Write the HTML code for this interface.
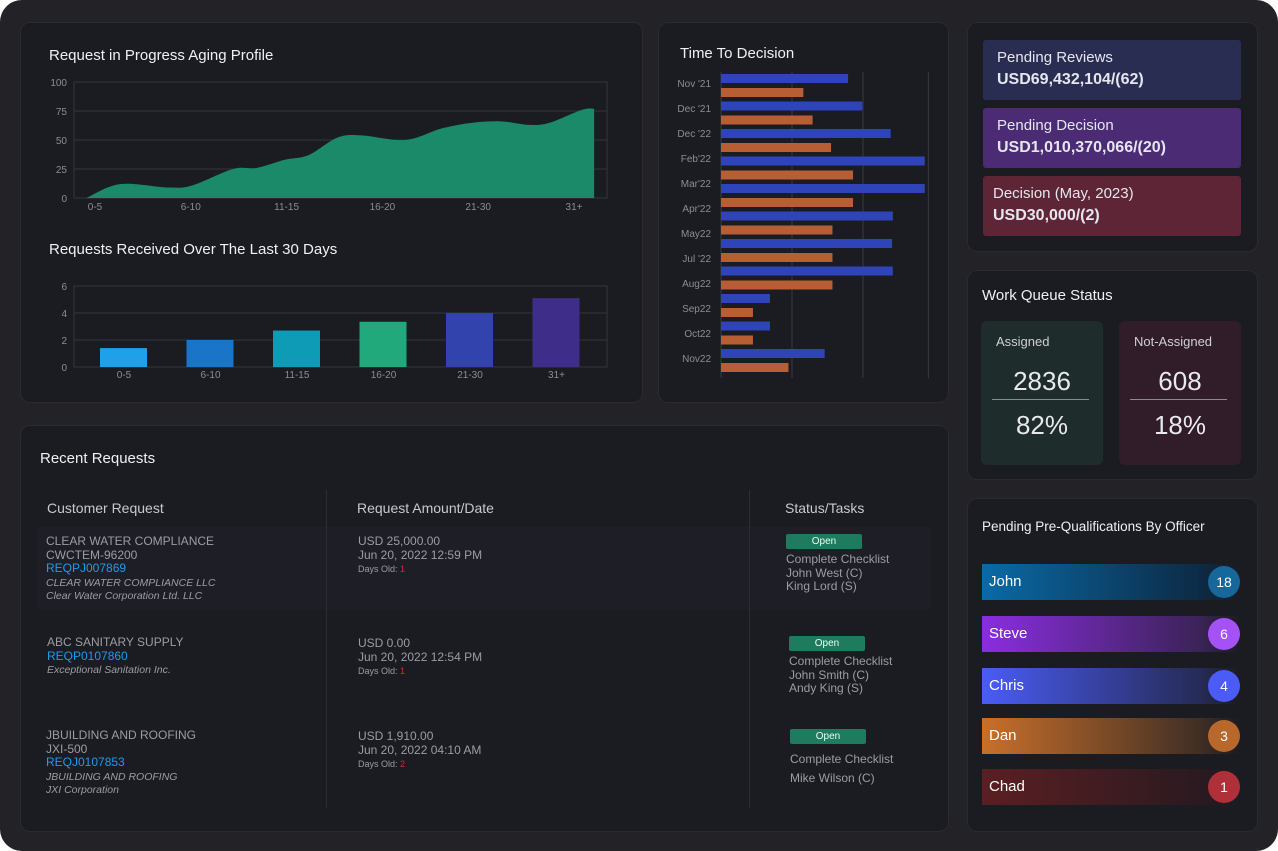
<!DOCTYPE html>
<html><head><meta charset="utf-8">
<style>
*{box-sizing:border-box;margin:0;padding:0}
body{width:1278px;height:851px;background:#fff;font-family:"Liberation Sans","DejaVu Sans",sans-serif;overflow:hidden}
#frame{position:absolute;left:0;top:0;width:1278px;height:851px;background:#222227;border-radius:22px}
.panel{position:absolute;background:#1b1b22;border:1px solid #2a2a31;border-radius:10px}
.t{position:absolute;white-space:nowrap}
.title{color:#f0f0f2;font-size:15px}
.card{position:absolute;left:983px;width:258px;height:60px;border-radius:3px;color:#e6e6ee}
.card .l{position:absolute;left:14px;top:9px;font-size:15px}
.card .v{position:absolute;left:14px;top:31px;font-size:16px;font-weight:bold}
.qbox{position:absolute;top:321px;width:122px;height:144px;border-radius:6px;color:#e8e8ee;text-align:center}
.qbox .h{position:absolute;left:15px;top:13px;font-size:13px;color:#cfcfd6}
.qbox .n{position:absolute;left:0;width:100%;top:45px;font-size:26px}
.qbox .ln{position:absolute;left:11px;right:14px;top:78px;height:1px;background:#8a8a92}
.qbox .p{position:absolute;left:0;width:100%;top:89px;font-size:26px}
.ofc{position:absolute;left:982px;width:258px;height:36px;color:#fff;font-size:15px}
.ofc span{position:absolute;left:7px;top:9px}
.ofc i{position:absolute;right:0;top:2px;width:32px;height:32px;border-radius:50%;font-style:normal;text-align:center;line-height:32px;font-size:14px}
.tb{color:#9c9ca4;font-size:12px;line-height:13.5px}
.lk{color:#1d9ceb}
.it{font-style:italic;font-size:10.5px;line-height:11px}
.badge{position:absolute;width:76px;height:15px;background:#1e7b5d;color:#e8fff4;font-size:10px;text-align:center;line-height:15px;border-radius:2px}
</style></head><body>
<div id="frame"></div>

<div class="panel" style="left:20px;top:22px;width:623px;height:381px"></div>
<div class="t title" style="left:49px;top:47px">Request in Progress Aging Profile</div>
<div class="t title" style="left:49px;top:241px">Requests Received Over The Last 30 Days</div>

<div class="panel" style="left:658px;top:22px;width:291px;height:381px"></div>
<div class="t title" style="left:680px;top:45px">Time To Decision</div>

<svg id="charts" width="1278" height="851" style="position:absolute;left:0;top:0;z-index:5;pointer-events:none"></svg>

<div class="panel" style="left:20px;top:425px;width:929px;height:407px"></div>
<div class="t title" style="left:40px;top:450px">Recent Requests</div>
<div style="position:absolute;left:38px;top:527px;width:892px;height:83px;background:#1e1e26"></div>
<div style="position:absolute;left:326px;top:490px;width:1px;height:318px;background:#2c2c34"></div>
<div style="position:absolute;left:749px;top:490px;width:1px;height:318px;background:#2c2c34"></div>
<div class="t" style="left:47px;top:500px;color:#c8c8d0;font-size:14px">Customer Request</div>
<div class="t" style="left:357px;top:500px;color:#c8c8d0;font-size:14px">Request Amount/Date</div>
<div class="t" style="left:785px;top:500px;color:#c8c8d0;font-size:14px">Status/Tasks</div>

<div class="t tb" style="left:46px;top:535px">CLEAR WATER COMPLIANCE<br>CWCTEM-96200<br><span class="lk">REQPJ007869</span><br><span class="it">CLEAR WATER COMPLIANCE LLC<br>Clear Water Corporation Ltd. LLC</span></div>
<div class="t tb" style="left:358px;top:535px">USD 25,000.00<br>Jun 20, 2022 12:59 PM<br><span style="font-size:9px">Days Old: <span style="color:#d03030">1</span></span></div>
<div class="badge" style="left:786px;top:534px">Open</div>
<div class="t tb" style="left:786px;top:553px">Complete Checklist<br>John West (C)<br>King Lord (S)</div>

<div class="t tb" style="left:47px;top:636px">ABC SANITARY SUPPLY<br><span class="lk">REQP0107860</span><br><span class="it">Exceptional Sanitation Inc.</span></div>
<div class="t tb" style="left:358px;top:637px">USD 0.00<br>Jun 20, 2022 12:54 PM<br><span style="font-size:9px">Days Old: <span style="color:#d03030">1</span></span></div>
<div class="badge" style="left:789px;top:636px">Open</div>
<div class="t tb" style="left:789px;top:655px">Complete Checklist<br>John Smith (C)<br>Andy King (S)</div>

<div class="t tb" style="left:46px;top:729px">JBUILDING AND ROOFING<br>JXI-500<br><span class="lk">REQJ0107853</span><br><span class="it">JBUILDING AND ROOFING<br>JXI Corporation</span></div>
<div class="t tb" style="left:358px;top:730px">USD 1,910.00<br>Jun 20, 2022 04:10 AM<br><span style="font-size:9px">Days Old: <span style="color:#d03030">2</span></span></div>
<div class="badge" style="left:790px;top:729px">Open</div>
<div class="t tb" style="left:790px;top:750px;line-height:19px">Complete Checklist<br>Mike Wilson (C)</div>

<div class="panel" style="left:967px;top:22px;width:291px;height:230px"></div>
<div class="card" style="top:40px;background:#2a2d52"><div class="l">Pending Reviews</div><div class="v">USD69,432,104/(62)</div></div>
<div class="card" style="top:108px;background:#4a2b74"><div class="l">Pending Decision</div><div class="v">USD1,010,370,066/(20)</div></div>
<div class="card" style="top:176px;background:#5d2536"><div class="l" style="left:10px">Decision (May, 2023)</div><div class="v" style="left:10px">USD30,000/(2)</div></div>

<div class="panel" style="left:967px;top:270px;width:291px;height:210px"></div>
<div class="t title" style="left:982px;top:287px">Work Queue Status</div>
<div class="qbox" style="left:981px;background:#1f2c2c"><div class="h">Assigned</div><div class="n">2836</div><div class="ln"></div><div class="p">82%</div></div>
<div class="qbox" style="left:1119px;background:#311d29"><div class="h">Not-Assigned</div><div class="n">608</div><div class="ln"></div><div class="p">18%</div></div>

<div class="panel" style="left:967px;top:498px;width:291px;height:334px"></div>
<div class="t" style="left:982px;top:519px;color:#f0f0f2;font-size:13.5px">Pending Pre-Qualifications By Officer</div>
<div class="ofc" style="top:564px;background:linear-gradient(90deg,#0a6aa6,#0d2a44 85%,#1b1b22)"><span>John</span><i style="background:#16689a">18</i></div>
<div class="ofc" style="top:616px;background:linear-gradient(90deg,#8a2de0,#3a2356 85%,#1b1b22)"><span>Steve</span><i style="background:#a452f5">6</i></div>
<div class="ofc" style="top:668px;background:linear-gradient(90deg,#4a5cf5,#262a55 85%,#1b1b22)"><span>Chris</span><i style="background:#4a5cf5">4</i></div>
<div class="ofc" style="top:718px;background:linear-gradient(90deg,#c8702a,#3f2e25 85%,#1b1b22)"><span>Dan</span><i style="background:#b8682a">3</i></div>
<div class="ofc" style="top:769px;background:linear-gradient(90deg,#5a1f22,#2a1a20 85%,#1b1b22)"><span>Chad</span><i style="background:#b0303a">1</i></div>

<script>
const NS='http://www.w3.org/2000/svg';
// Area chart data
const ageLabels=['0-5','6-10','11-15','16-20','21-30','31+'];
const ageTicks=[0,25,50,75,100];
const agePos=[-0.09,0.26,0.77,1.02,1.44,1.69,1.98,2.23,2.53,2.78,3.24,3.62,3.95,4.25,4.54,4.75,5.08,5.21];
const ageVals=[0,12,9,11,25,26,33,37,52,54,50,60,65,66,63,65,76,77];
// Bar chart data
const recLabels=['0-5','6-10','11-15','16-20','21-30','31+'];
const recVals=[1.4,2.0,2.7,3.35,4.0,5.1];
const recTicks=[0,2,4,6];
// Time to decision data
const ttdLabels=["Nov '21","Dec '21","Dec '22","Feb'22","Mar'22","Apr'22","May22","Jul '22","Aug22","Sep22","Oct22","Nov22"];
const ttdBlue=[17.9,19.9,23.9,28.7,28.7,24.2,24.1,24.2,6.9,6.9,14.6];
const ttdOrange=[11.6,12.9,15.5,18.6,18.6,15.7,15.7,15.7,4.5,4.5,9.5];
const ttdGrid=[10,20,29.2];

const svg=document.getElementById('charts');
function el(tag,attrs,txt){const e=document.createElementNS(NS,tag);for(const k in attrs)e.setAttribute(k,attrs[k]);if(txt!==undefined)e.textContent=txt;svg.appendChild(e);return e;}

// area chart axes
const ax=i=>95+i*95.8, ay=v=>198-v*1.16;
let r=el('rect',{x:74,y:82,width:533,height:116,fill:'none',stroke:'#34343c'});


ageTicks.forEach(t=>{
 if(t>0&&t<100){const g=el('line',{x1:74,x2:607,y1:ay(t),y2:ay(t),stroke:'#34343c'});
 
 }
 const l=el('text',{x:67,y:ay(t)+4,fill:'#8c8c94','font-size':10,'text-anchor':'end'},t);
 
 
});
ageLabels.forEach((s,i)=>{const l=el('text',{x:ax(i),y:210,fill:'#8c8c94','font-size':10,'text-anchor':'middle'},s);
 
 });
const pts=agePos.map((p,i)=>[ax(p),ay(ageVals[i])]);
let d='M'+pts[0][0]+','+ay(0)+' L'+pts[0][0]+','+pts[0][1];
for(let i=0;i<pts.length-1;i++){const p0=pts[Math.max(0,i-1)],p1=pts[i],p2=pts[i+1],p3=pts[Math.min(pts.length-1,i+2)];
 d+=' C'+(p1[0]+(p2[0]-p0[0])/6)+','+(p1[1]+(p2[1]-p0[1])/6)+' '+(p2[0]-(p3[0]-p1[0])/6)+','+(p2[1]-(p3[1]-p1[1])/6)+' '+p2[0]+','+p2[1];}
d+=' L'+pts[pts.length-1][0]+','+ay(0)+' Z';
const area=el('path',{d:d,fill:'#1b8a68'});



// bar chart
const by=v=>367-v*13.5, bx=i=>124+i*86.5;
r=el('rect',{x:74,y:286,width:533,height:81,fill:'none',stroke:'#34343c'});


recTicks.forEach(t=>{
 if(t>0&&t<6){const g=el('line',{x1:74,x2:607,y1:by(t),y2:by(t),stroke:'#34343c'});
 
 }
 const l=el('text',{x:67,y:by(t)+4,fill:'#8c8c94','font-size':10,'text-anchor':'end'},t);
 
 
});
const barCols=['#1ea1e8','#1a74c8','#0d9bb5','#22a97b','#3243ae','#3f2d8a'];
recVals.forEach((v,i)=>{
 const b=el('rect',{x:bx(i)-24,y:by(v),width:47,height:by(0)-by(v),fill:barCols[i%barCols.length]});
 
 
 const l=el('text',{x:bx(i),y:378,fill:'#8c8c94','font-size':10,'text-anchor':'middle'},recLabels[i]);
 
 
});

// time to decision
const tx=v=>721+v*7.1, ty=i=>74+i*27.5, tly=i=>87+i*25;
[0].concat(ttdGrid).forEach(g=>{const l=el('line',{x1:tx(g),x2:tx(g),y1:72,y2:378,stroke:'#3a3a44'});
 
 });
ttdLabels.forEach((s,i)=>{const l=el('text',{x:711,y:tly(i),fill:'#8c8c94','font-size':10,'text-anchor':'end'},s);
 
 });
ttdBlue.forEach((v,i)=>{const b=el('rect',{x:721,y:ty(i),width:tx(v)-721,height:9,fill:'#2e44b8'});
 
 });
ttdOrange.forEach((v,i)=>{const b=el('rect',{x:721,y:ty(i)+14,width:tx(v)-721,height:9,fill:'#b85e34'});
 
 });
</script>
</body></html>
